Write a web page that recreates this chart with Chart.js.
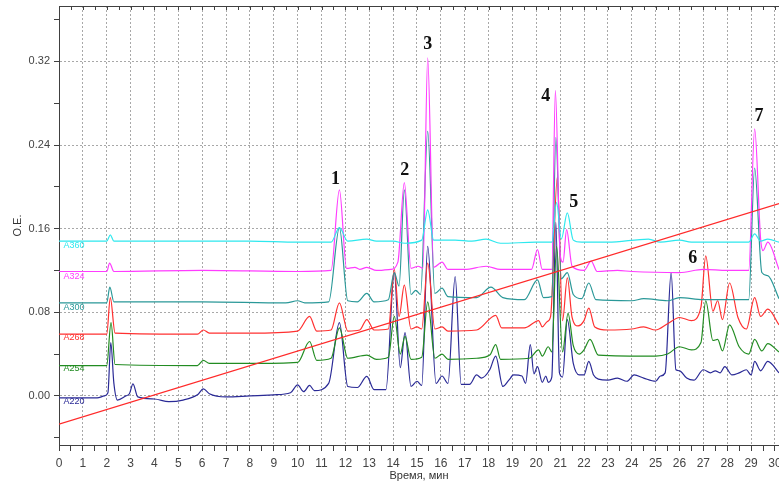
<!DOCTYPE html>
<html>
<head>
<meta charset="utf-8">
<script src="https://cdn.jsdelivr.net/npm/chart.js@4.4.0/dist/chart.umd.min.js"></script>
<style>
  html, body { margin: 0; padding: 0; background: #fff; }
  #wrap { width: 779px; height: 483px; position: relative; }
</style>
</head>
<body>
<div id="wrap"><canvas id="grafico"></canvas></div>
<script>
// Названия кривых и их цвета
const traceNames = ['A360', 'A324', 'A300', 'A268', 'A254', 'A220'];
const traceColors = ['#2ee8ee', '#ff3cff', '#2a9898', '#ff3030', '#228c22', '#2a2a96'];

// Хроматограммы: [время, мин ; О.Е.]
const a360 = [[0,0.148],[2.0,0.148],[2.15,0.154],[2.3,0.148],[6,0.148],[8,0.148],[10,0.147],[11.4,0.147],[11.75,0.161],[12.1,0.148],
  [12.9,0.150],[13.3,0.148],[14.0,0.148],[14.5,0.146],[15.2,0.149],[15.45,0.178],[15.7,0.149],[16.6,0.149],[17.3,0.148],[17.9,0.150],
  [18.5,0.146],[20.0,0.147],[20.65,0.147],[20.85,0.185],[21.05,0.150],[21.3,0.175],[21.55,0.149],[21.9,0.147],[23,0.147],[24.7,0.150],
  [25.2,0.147],[26.0,0.149],[26.5,0.147],[28.9,0.147],[29.15,0.155],[29.4,0.148],[29.7,0.150],[30.17,0.147]];
const a324 = [[0,0.119],[2.0,0.119],[2.12,0.127],[2.3,0.119],[6,0.120],[10,0.119],[11.4,0.120],[11.75,0.197],[12.05,0.122],[12.4,0.123],
  [12.6,0.121],[12.9,0.123],[13.3,0.120],[13.9,0.121],[14.2,0.128],[14.47,0.204],[14.75,0.122],[15.05,0.124],[15.25,0.122],[15.45,0.3235],
  [15.7,0.123],[16.05,0.128],[16.3,0.121],[17.0,0.121],[17.9,0.124],[18.5,0.121],[19.8,0.121],[20.05,0.140],[20.25,0.121],[20.65,0.121],
  [20.8,0.292],[21.0,0.135],[21.12,0.128],[21.27,0.159],[21.5,0.124],[22.0,0.120],[22.3,0.129],[22.55,0.119],[23.4,0.120],[24,0.119],
  [26,0.118],[27,0.121],[28,0.120],[28.9,0.120],[29.15,0.2555],[29.4,0.150],[29.5,0.139],[29.7,0.147],[30.17,0.121]];
const a300 = [[0,0.089],[2.0,0.089],[2.13,0.104],[2.3,0.090],[6,0.090],[9.5,0.089],[10.0,0.091],[10.3,0.089],[11.3,0.090],[11.75,0.161],
  [12.1,0.091],[12.5,0.090],[12.9,0.098],[13.2,0.090],[13.8,0.092],[14.05,0.118],[14.25,0.105],[14.47,0.197],[14.75,0.097],[14.95,0.101],
  [15.15,0.097],[15.45,0.253],[15.75,0.098],[16.05,0.103],[16.3,0.095],[17.5,0.094],[18.1,0.104],[18.6,0.094],[19.5,0.092],[20.05,0.111],
  [20.3,0.094],[20.65,0.095],[20.82,0.247],[21.05,0.112],[21.3,0.118],[21.55,0.097],[21.9,0.093],[22.2,0.108],[22.5,0.092],[24,0.091],
  [24.5,0.093],[25.5,0.091],[26,0.094],[27,0.092],[28.9,0.092],[29.15,0.218],[29.45,0.118],[29.7,0.115],[30.17,0.093]];
const a268 = [[0,0.059],[2.0,0.059],[2.15,0.094],[2.35,0.060],[5.8,0.059],[6.05,0.063],[6.3,0.060],[8,0.060],[10,0.062],[10.5,0.076],
  [10.8,0.062],[11.4,0.063],[11.75,0.089],[12.1,0.062],[12.6,0.063],[12.9,0.073],[13.2,0.063],[13.8,0.064],[14.05,0.121],[14.25,0.076],
  [14.47,0.106],[14.75,0.064],[15.0,0.066],[15.2,0.064],[15.45,0.127],[15.75,0.064],[16.05,0.066],[16.3,0.062],[17.5,0.063],[18.3,0.077],
  [18.55,0.065],[19.5,0.065],[20.1,0.072],[20.25,0.066],[20.45,0.071],[20.6,0.076],[20.88,0.209],[21.1,0.072],[21.3,0.113],[21.5,0.075],
  [21.75,0.067],[22.0,0.072],[22.2,0.084],[22.45,0.066],[23,0.063],[24,0.064],[24.5,0.066],[25,0.063],[25.5,0.069],[26,0.075],
  [26.5,0.072],[26.9,0.085],[27.1,0.134],[27.4,0.081],[27.6,0.091],[27.8,0.073],[28.1,0.108],[28.45,0.075],[28.8,0.064],[29.15,0.094],
  [29.4,0.076],[29.7,0.083],[30.17,0.068]];
const a254 = [[0,0.029],[2.0,0.029],[2.18,0.070],[2.35,0.030],[5.8,0.029],[6.05,0.034],[6.3,0.031],[8,0.031],[10,0.032],[10.5,0.052],
  [10.8,0.034],[11.4,0.036],[11.75,0.065],[12.1,0.036],[12.9,0.039],[13.3,0.035],[13.8,0.037],[14.05,0.076],[14.3,0.040],[14.5,0.057],
  [14.75,0.035],[15.2,0.037],[15.45,0.090],[15.75,0.036],[16.05,0.040],[16.3,0.035],[17.5,0.036],[18.05,0.039],[18.3,0.049],[18.5,0.035],
  [19.7,0.036],[20.1,0.044],[20.25,0.038],[20.5,0.047],[20.65,0.042],[20.85,0.143],[21.1,0.042],[21.33,0.079],[21.55,0.048],[21.8,0.040],
  [22.0,0.044],[22.25,0.054],[22.6,0.039],[25,0.038],[25.5,0.040],[26,0.047],[26.5,0.044],[26.9,0.051],[27.1,0.091],[27.4,0.053],
  [27.6,0.054],[27.8,0.043],[28.1,0.068],[28.5,0.047],[28.9,0.040],[29.15,0.054],[29.45,0.043],[29.7,0.050],[30.17,0.042]];
const a220 = [[0,-0.002],[1.6,-0.002],[1.9,0.0],[2.05,0.003],[2.17,0.051],[2.3,0.012],[2.45,-0.004],[2.8,0.0],[2.95,0.002],[3.1,0.0115],
  [3.3,-0.001],[4,-0.003],[4.6,-0.0055],[5.2,-0.004],[5.8,0.001],[6.05,0.0067],[6.3,0.002],[7,-0.001],[8,0.0],[9,0.001],
  [9.7,0.003],[10.0,0.0106],[10.25,0.004],[10.5,0.010],[10.7,0.005],[11.3,0.012],[11.75,0.070],[12.1,0.009],[12.5,0.008],[12.9,0.0186],
  [13.2,0.006],[13.7,0.006],[14.05,0.118],[14.3,0.027],[14.5,0.0606],[14.75,0.009],[15.0,0.014],[15.2,0.010],[15.45,0.143],[15.8,0.012],
  [16.05,0.019],[16.3,0.012],[16.6,0.114],[16.85,0.011],[17.2,0.011],[17.5,0.020],[17.7,0.017],[18.05,0.025],[18.3,0.038],[18.6,0.009],
  [18.85,0.015],[19.05,0.020],[19.4,0.019],[19.55,0.012],[19.75,0.049],[19.9,0.021],[20.05,0.028],[20.25,0.013],[20.4,0.019],[20.5,0.013],
  [20.65,0.018],[20.82,0.166],[20.97,0.022],[21.1,0.018],[21.3,0.073],[21.55,0.031],[21.8,0.020],[22.0,0.020],[22.2,0.033],[22.4,0.020],
  [22.6,0.016],[23,0.015],[23.4,0.017],[23.8,0.014],[24.1,0.020],[24.5,0.017],[25,0.014],[25.2,0.019],[25.4,0.022],[25.65,0.118],
  [25.85,0.025],[26.0,0.024],[26.3,0.017],[26.6,0.015],[27,0.025],[27.3,0.022],[27.5,0.024],[27.7,0.022],[27.9,0.028],[28.2,0.020],
  [28.5,0.022],[28.8,0.025],[29.0,0.020],[29.15,0.033],[29.4,0.024],[29.7,0.033],[30.17,0.022]];
// Градиент (прямая)
const gradiente = [[0,-0.027],[30.17,0.184]];

// Подписи кривых и номера пиков (в координатах осей)
const traceLabelPos = [[0.19,0.1436],[0.19,0.114],[0.19,0.085],[0.19,0.0555],[0.19,0.026],[0.19,-0.005]];
const peakNames = ['1', '2', '3', '4', '5', '6', '7'];
const peakPos = [[11.59,0.207],[14.49,0.216],[15.45,0.336],[20.4,0.287],[21.57,0.185],[26.56,0.132],[29.33,0.267]];

// Деления осей
const xTickLabels = ['0','1','2','3','4','5','6','7','8','9','10','11','12','13','14','15','16','17','18','19','20',
  '21','22','23','24','25','26','27','28','29','30'];
const yTickLabels = ['0.00', '0.08', '0.16', '0.24', '0.32'];
const yMinorTicks = [-0.04, 0, 0.04, 0.08, 0.12, 0.16, 0.20, 0.24, 0.28, 0.32, 0.36];

const series = [a360, a324, a300, a268, a254, a220];

// деления по X через 0.5 мин
const xTicks = [];
xTickLabels.forEach((l, i) => {
  xTicks.push(Number(l));
  if (i < xTickLabels.length - 1) xTicks.push(Number(l) + 0.5);
});
const yMajor = yTickLabels.map(Number);
const isYMajor = v => yMajor.some(m => Math.abs(m - v) < 1e-6);
const isXMajor = v => xTickLabels.some(l => Math.abs(Number(l) - v) < 1e-6);

const datasets = series.map((s, i) => ({
  label: traceNames[i],
  data: s.map(p => ({ x: p[0], y: p[1] })),
  borderColor: traceColors[i],
  borderWidth: 1.2,
  pointRadius: 0,
  cubicInterpolationMode: 'monotone'
}));
datasets.unshift({
  label: 'gradient',
  data: gradiente.map(p => ({ x: p[0], y: p[1] })),
  borderColor: '#ff2a2a',
  borderWidth: 1.2,
  pointRadius: 0
});

// Рамка сверху, подписи кривых и номера пиков
const extras = {
  id: 'extras',
  afterDraw(chart) {
    const { ctx, chartArea, scales } = chart;
    const sx = scales.x, sy = scales.y;
    ctx.save();
    ctx.strokeStyle = '#404040';
    ctx.lineWidth = 1;
    ctx.beginPath();
    ctx.moveTo(chartArea.left, chartArea.top + 0.5);
    ctx.lineTo(chartArea.right, chartArea.top + 0.5);
    xTicks.forEach(v => {
      const px = Math.round(sx.getPixelForValue(v)) + 0.5;
      ctx.moveTo(px, chartArea.top);
      ctx.lineTo(px, chartArea.top + 4);
    });
    ctx.stroke();

    ctx.font = '9px "Liberation Sans", Arial, sans-serif';
    ctx.textBaseline = 'middle';
    ctx.textAlign = 'left';
    traceNames.forEach((n, i) => {
      ctx.fillStyle = traceColors[i];
      ctx.fillText(n, sx.getPixelForValue(traceLabelPos[i][0]), sy.getPixelForValue(traceLabelPos[i][1]));
    });

    ctx.font = 'bold 18px "Liberation Serif", "Times New Roman", serif';
    ctx.fillStyle = '#111';
    ctx.textAlign = 'center';
    peakNames.forEach((n, i) => {
      ctx.fillText(n, sx.getPixelForValue(peakPos[i][0]), sy.getPixelForValue(peakPos[i][1]));
    });
    ctx.restore();
  }
};

const ctx = document.getElementById('grafico').getContext('2d');
new Chart(ctx, {
  type: 'line',
  data: { datasets: datasets },
  options: {
    responsive: true,
    maintainAspectRatio: false,
    devicePixelRatio: 1,
    animation: false,
    layout: { padding: { top: 6, right: 0, bottom: 0, left: 0 } },
    plugins: { legend: { display: false }, tooltip: { enabled: false } },
    scales: {
      x: {
        type: 'linear',
        min: 0,
        max: 30.17,
        afterBuildTicks: s => { s.ticks = xTicks.map(v => ({ value: v })); },
        afterFit: s => { s.height = 38; s.paddingLeft = 0; s.paddingRight = 0; },
        ticks: {
          autoSkip: false,
          maxRotation: 0,
          padding: 5,
          color: '#444',
          font: { family: '"Liberation Sans", Arial, sans-serif', size: 12 },
          callback: v => isXMajor(v) ? String(Math.round(v)) : ''
        },
        grid: {
          color: c => (c.tick && isXMajor(c.tick.value)) ? '#a8a8a8' : 'rgba(0,0,0,0)',
          tickColor: '#404040',
          tickLength: 6,
          tickBorderDash: [1, 0],
          lineWidth: 1
        },
        border: { display: true, color: '#404040', width: 1, dash: [2, 2] },
        title: {
          display: true,
          text: 'Время, мин',
          color: '#333',
          font: { family: '"Liberation Sans", Arial, sans-serif', size: 11 },
          padding: { top: 0, bottom: 0 }
        }
      },
      y: {
        type: 'linear',
        min: -0.047,
        max: 0.373,
        afterBuildTicks: s => { s.ticks = yMinorTicks.map(v => ({ value: v })); },
        afterFit: s => { s.width = 59; s.paddingTop = 0; s.paddingBottom = 0; },
        ticks: {
          autoSkip: false,
          padding: 4,
          color: '#444',
          font: { family: '"Liberation Sans", Arial, sans-serif', size: 11 },
          callback: v => isYMajor(v) ? v.toFixed(2) : ''
        },
        grid: {
          color: c => (c.tick && isYMajor(c.tick.value)) ? '#a8a8a8' : 'rgba(0,0,0,0)',
          tickColor: '#404040',
          tickLength: 5,
          tickBorderDash: [1, 0],
          lineWidth: 1
        },
        border: { display: true, color: '#404040', width: 1, dash: [2, 2] },
        title: {
          display: true,
          text: 'О.Е.',
          color: '#333',
          font: { family: '"Liberation Sans", Arial, sans-serif', size: 11 },
          padding: { top: 11, bottom: 0 }
        }
      }
    }
  },
  plugins: [extras]
});
</script>
</body>
</html>
